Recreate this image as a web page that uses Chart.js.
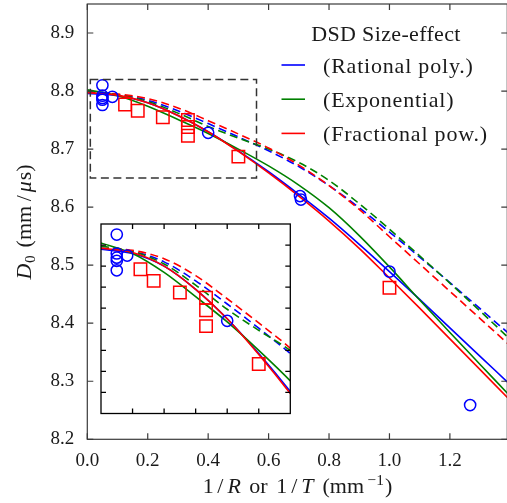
<!DOCTYPE html>
<html>
<head>
<meta charset="utf-8">
<script src="https://cdn.jsdelivr.net/npm/chart.js@4.4.1/dist/chart.umd.min.js"></script>
<style>
  html, body { margin: 0; padding: 0; background: #fff; overflow: hidden; width: 507px; height: 503px; }
  #wrap { position: relative; width: 507px; height: 503px; overflow: hidden; background: #fff; }
  #main { position: absolute; left: 0; top: 0; }
  #inset { position: absolute; left: 96px; top: 219px; }
</style>
</head>
<body>
<div id="wrap">
  <canvas id="main" width="510" height="503"></canvas>
  <canvas id="inset" width="200" height="200"></canvas>
</div>
<script>
// Detonation speed D0 versus curvature 1/R (cylinders) or 1/T (slabs)
const curveX = [0, 0.1, 0.2, 0.3, 0.4, 0.5, 0.6, 0.7, 0.8, 0.9, 1.0, 1.1, 1.2, 1.3, 1.4];

// DSD size-effect fits (solid) and their companion curves (dashed)
const rationalSolid     = [8.796, 8.792, 8.780, 8.758, 8.730, 8.697, 8.661, 8.622, 8.581, 8.536, 8.489, 8.441, 8.392, 8.343, 8.294];
const exponentialSolid  = [8.802, 8.792, 8.774, 8.751, 8.727, 8.700, 8.671, 8.638, 8.599, 8.551, 8.497, 8.440, 8.384, 8.329, 8.274];
const fractionalSolid   = [8.797, 8.793, 8.780, 8.758, 8.730, 8.696, 8.659, 8.619, 8.576, 8.529, 8.478, 8.426, 8.373, 8.320, 8.267];
const rationalDashed    = [8.797, 8.794, 8.784, 8.766, 8.744, 8.721, 8.697, 8.670, 8.637, 8.599, 8.557, 8.514, 8.470, 8.425, 8.380];
const exponentialDashed = [8.799, 8.794, 8.782, 8.762, 8.739, 8.719, 8.700, 8.677, 8.646, 8.606, 8.562, 8.516, 8.469, 8.421, 8.372];
const fractionalDashed  = [8.797, 8.795, 8.787, 8.771, 8.749, 8.726, 8.702, 8.6725, 8.637, 8.596, 8.549, 8.502, 8.455, 8.408, 8.361];

// Measured rate sticks (circles, 1/R) and slabs (squares, 1/T)
const circleX = [0.05, 0.05, 0.05, 0.05, 0.05, 0.083, 0.4, 0.704, 0.707, 1.0, 1.267];
const circleY = [8.810, 8.792, 8.788, 8.785, 8.776, 8.790, 8.728, 8.619, 8.613, 8.489, 8.259];
const squareX = [0.125, 0.167, 0.25, 0.333, 0.333, 0.333, 0.5, 1.0];
const squareY = [8.777, 8.766, 8.755, 8.750, 8.738, 8.723, 8.687, 8.461];

// Axis ticks
const xTicks = [0, 0.2, 0.4, 0.6, 0.8, 1.0, 1.2];
const yTicks = [8.2, 8.3, 8.4, 8.5, 8.6, 8.7, 8.8, 8.9];
const insetXTicks = [0.1, 0.2, 0.3, 0.4, 0.5];
const insetYTicks = [8.66, 8.68, 8.70, 8.72, 8.74, 8.76, 8.78, 8.80];

// Zoom window shown in the inset
const boxX = [0.01, 0.56];
const boxY = [8.65, 8.82];

// Legend
const legendTitle = 'DSD Size-effect';
const legendNames = ['(Rational poly.)', '(Exponential)', '(Fractional pow.)'];
const legendColors = ['#0000ff', '#008000', '#ff0000'];

const BLUE = '#0000ff', GREEN = '#008000', RED = '#ff0000';
const SERIF = '"Liberation Serif", "Times New Roman", serif';

function pts(xs, ys) { return xs.map((x, i) => ({ x, y: ys[i] })); }

function curve(ys, color, dashed) {
  return {
    data: pts(curveX, ys), showLine: true, borderColor: color, borderWidth: 1.6,
    borderDash: dashed ? [8, 4.5] : [], pointRadius: 0, fill: false,
    cubicInterpolationMode: 'monotone'
  };
}

function buildDatasets() {
  return [
    { data: pts(circleX, circleY), showLine: false, pointStyle: 'circle', pointRadius: 5.6,
      pointBorderColor: BLUE, pointBackgroundColor: 'rgba(0,0,0,0)', pointBorderWidth: 1.5 },
    { data: pts(squareX, squareY), showLine: false, pointStyle: 'rect', pointRadius: 8.8,
      pointBorderColor: RED, pointBackgroundColor: 'rgba(0,0,0,0)', pointBorderWidth: 1.5 },
    curve(fractionalSolid, RED, false),
    curve(exponentialSolid, GREEN, false),
    curve(rationalSolid, BLUE, false),
    curve(fractionalDashed, RED, true),
    curve(exponentialDashed, GREEN, true),
    curve(rationalDashed, BLUE, true)
  ];
}

// Box frame with inward tick marks on all four sides
const frameTicks = {
  id: 'frameTicks',
  afterDraw(chart, args, o) {
    const { ctx, chartArea: a, scales: { x, y } } = chart;
    ctx.save();
    ctx.strokeStyle = o.color;
    ctx.lineWidth = o.width;
    ctx.beginPath();
    o.xTicks.forEach(v => {
      const p = x.getPixelForValue(v);
      ctx.moveTo(p, a.bottom); ctx.lineTo(p, a.bottom - o.len);
      ctx.moveTo(p, a.top); ctx.lineTo(p, a.top + o.len);
    });
    o.yTicks.forEach(v => {
      const p = y.getPixelForValue(v);
      ctx.moveTo(a.left, p); ctx.lineTo(a.left + o.len, p);
      ctx.moveTo(a.right, p); ctx.lineTo(a.right - o.len, p);
    });
    ctx.stroke();
    ctx.strokeRect(a.left, a.top, a.right - a.left, a.bottom - a.top);
    ctx.restore();
  }
};

// Dashed rectangle marking the zoomed region
const zoomBox = {
  id: 'zoomBox',
  afterDatasetsDraw(chart) {
    const { ctx, scales: { x, y } } = chart;
    const x0 = x.getPixelForValue(boxX[0]), x1 = x.getPixelForValue(boxX[1]);
    const y0 = y.getPixelForValue(boxY[1]), y1 = y.getPixelForValue(boxY[0]);
    ctx.save();
    ctx.strokeStyle = '#333';
    ctx.lineWidth = 1.5;
    ctx.setLineDash([8, 4.5]);
    ctx.strokeRect(x0, y0, x1 - x0, y1 - y0);
    ctx.restore();
  }
};

function drawRich(ctx, parts, x, y, size, rotate) {
  ctx.save();
  ctx.translate(x, y);
  if (rotate) ctx.rotate(-Math.PI / 2);
  const fontOf = p => `${p.it ? 'italic ' : ''}${(p.scale || 1) * size}px ${SERIF}`;
  let w = 0;
  parts.forEach(p => { ctx.font = fontOf(p); p.w = ctx.measureText(p.t).width + (p.gap || 0); w += p.w; });
  let cx = -w / 2;
  ctx.textAlign = 'left';
  ctx.textBaseline = 'alphabetic';
  ctx.fillStyle = '#1a1a1a';
  parts.forEach(p => { ctx.font = fontOf(p); ctx.fillText(p.t, cx + (p.gap || 0) / 2, p.dy || 0); cx += p.w; });
  ctx.restore();
}

// Axis titles and the legend block
const annotations = {
  id: 'annotations',
  afterDraw(chart) {
    const { ctx, chartArea: a } = chart;
    drawRich(ctx, [
      { t: '1', gap: 1 }, { t: '/', gap: 6 }, { t: 'R', it: true, gap: 2 }, { t: ' or', gap: 4 }, { t: ' 1', gap: 2 }, { t: '/', gap: 6 },
      { t: 'T', it: true, gap: 2 }, { t: ' (mm', gap: 5 }, { t: '\u22121', scale: 0.7, dy: -8, gap: 2 }, { t: ')' }
    ], (a.left + a.right) / 2, 493, 22, false);
    drawRich(ctx, [
      { t: 'D', it: true }, { t: '0', scale: 0.7, dy: 4, gap: 1 }, { t: ' (mm', gap: 4 }, { t: '/', gap: 5 },
      { t: '\u03bc', it: true, gap: 1 }, { t: 's)', gap: 1 }
    ], 31, (a.top + a.bottom) / 2, 22, true);

    ctx.save();
    ctx.fillStyle = '#1a1a1a';
    ctx.font = `22px ${SERIF}`;
    ctx.textBaseline = 'alphabetic';
    ctx.textAlign = 'left';
    ctx.letterSpacing = '0.35px';
    const tw = ctx.measureText(legendTitle).width;
    ctx.fillText(legendTitle, 386 - tw / 2, 40.5);
    ctx.letterSpacing = '0.8px';
    legendNames.forEach((name, i) => {
      const ly = 65 + i * 34.2;
      ctx.strokeStyle = legendColors[i];
      ctx.lineWidth = 1.6;
      ctx.beginPath();
      ctx.moveTo(281.5, ly); ctx.lineTo(305, ly);
      ctx.stroke();
      ctx.fillText(name, 323, ly + 8);
    });
    ctx.restore();
  }
};

const tickFont = { family: SERIF, size: 19 };
function noScalePadding(s) { s.paddingTop = 0; s.paddingBottom = 0; s.paddingLeft = 0; s.paddingRight = 0; }

new Chart(document.getElementById('main'), {
  type: 'scatter',
  data: { datasets: buildDatasets() },
  options: {
    responsive: false, animation: false, devicePixelRatio: 1,
    layout: { autoPadding: false, padding: { top: 4, right: 2.7, left: 0, bottom: 0 } },
    plugins: {
      legend: { display: false }, tooltip: { enabled: false },
      frameTicks: { color: '#3a3a3a', width: 1.2, len: 6, xTicks, yTicks }
    },
    scales: {
      x: {
        type: 'linear', min: 0, max: 1.39,
        grid: { display: false, drawTicks: false }, border: { display: false },
        afterBuildTicks: s => { s.ticks = xTicks.map(v => ({ value: v })); },
        afterFit: s => { s.height = 63.7; noScalePadding(s); },
        ticks: { font: tickFont, color: '#1a1a1a', padding: 10, autoSkip: false, maxRotation: 0,
                 callback: v => Number(v).toFixed(1) }
      },
      y: {
        type: 'linear', min: 8.2, max: 8.95,
        grid: { display: false, drawTicks: false }, border: { display: false },
        afterBuildTicks: s => { s.ticks = yTicks.map(v => ({ value: v })); },
        afterFit: s => { s.width = 87.3; noScalePadding(s); },
        ticks: { font: tickFont, color: '#1a1a1a', padding: 13, autoSkip: false,
                 callback: v => Number(v).toFixed(1) }
      }
    }
  },
  plugins: [zoomBox, frameTicks, annotations]
});

// Inset: white panel behind the magnified view
const insetBg = {
  id: 'insetBg',
  beforeDraw(chart) {
    const { ctx, chartArea: a } = chart;
    ctx.save();
    ctx.fillStyle = '#fff';
    ctx.fillRect(a.left, a.top, a.right - a.left, a.bottom - a.top);
    ctx.restore();
  }
};

new Chart(document.getElementById('inset'), {
  type: 'scatter',
  data: { datasets: buildDatasets() },
  options: {
    responsive: false, animation: false, devicePixelRatio: 1,
    layout: { autoPadding: false, padding: { left: 5, top: 5, right: 5.7, bottom: 5.5 } },
    plugins: {
      legend: { display: false }, tooltip: { enabled: false },
      frameTicks: { color: '#000', width: 1.3, len: 5, xTicks: insetXTicks, yTicks: insetYTicks }
    },
    scales: {
      x: { type: 'linear', min: 0, max: 0.6, display: false },
      y: { type: 'linear', min: 8.64, max: 8.82, display: false }
    }
  },
  plugins: [insetBg, frameTicks]
});
</script>
</body>
</html>
